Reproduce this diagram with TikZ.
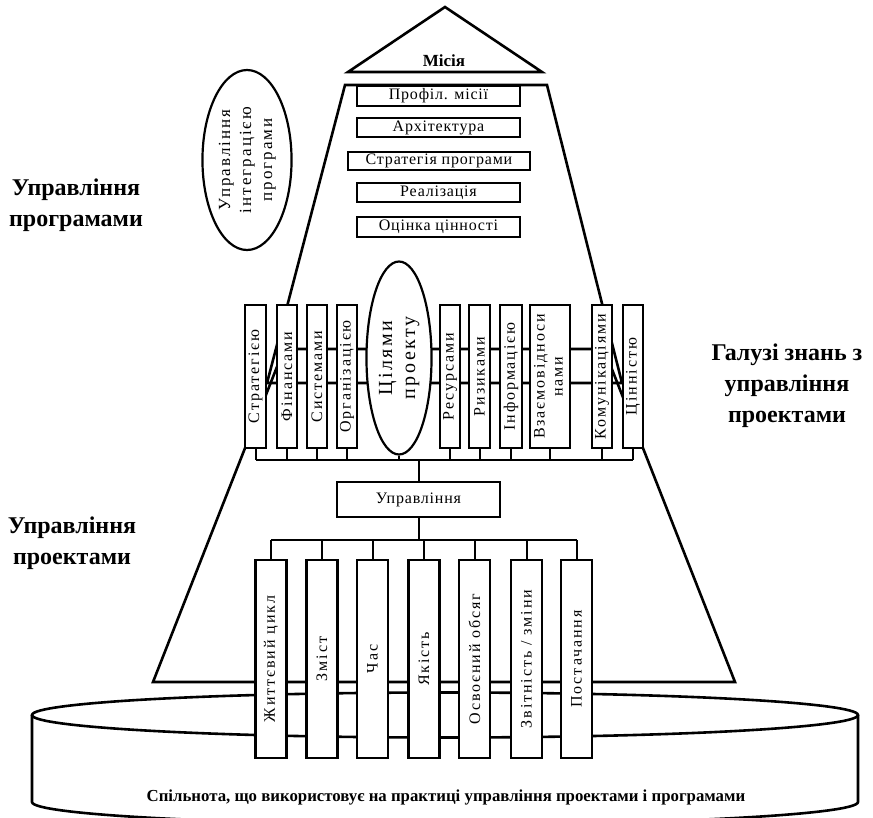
\documentclass[tikz,border=0pt]{standalone}
\usepackage{fontspec}
\setmainfont{Liberation Serif}
\newfontfamily\spc{Liberation Serif}[LetterSpace=12]
\newfontfamily\spb{Liberation Serif}[LetterSpace=5]
\usetikzlibrary{shapes.geometric}
\begin{document}
\begin{tikzpicture}[x=1pt,y=-1pt,
  outl/.style={line width=2.6pt, line join=miter},
  conn/.style={line width=2pt},
  pbox/.style={draw, line width=2.2pt, fill=white, inner sep=0pt, font=\spb\fontsize{16}{18}\selectfont},
  vbox/.style={draw, line width=2.2pt, fill=white, inner sep=0pt, minimum width=20pt, minimum height=143pt, font=\spc\fontsize{16}{18}\selectfont},
  bbar/.style={draw, line width=2.2pt, fill=white, inner sep=0pt, minimum width=31pt, minimum height=198pt, font=\spc\fontsize{16}{18}\selectfont},
  lbl/.style={font=\bfseries\fontsize{24}{31}\selectfont, align=center},
]
\useasboundingbox (0,0) rectangle (873,817);

% cylinder
\draw[outl, fill=white] (32,715) -- (32,802) arc[start angle=180, end angle=0, x radius=413, y radius=22.5] -- (858,715);
\draw[outl] (445,715) ellipse [x radius=413, y radius=22.5];
\node[font=\bfseries\fontsize{16.8}{18}\selectfont] (comm) at (446,797) {Спільнота, що використовує на практиці управління проектами і програмами};

% trapezoids
\draw[outl] (345,85) -- (547,85) -- (622,383) -- (267,383) -- cycle;
\draw[outl] (284,349) -- (604,349) -- (735,682) -- (153,682) -- cycle;

% mission
\draw[outl] (348,72) -- (445,7) -- (542,72) -- cycle;
\node[font=\bfseries\fontsize{17}{19}\selectfont] (mis) at (444,61) {Місія};

% program boxes
\node[pbox, minimum width=163pt, minimum height=20pt] (p1) at (438.5,96) {Профіл. місії};
\node[pbox, minimum width=163pt, minimum height=19pt] (p2) at (438.5,127.5) {Архітектура};
\node[pbox, minimum width=182pt, minimum height=18pt] (p3) at (439,161) {Стратегія програми};
\node[pbox, minimum width=163pt, minimum height=19pt] (p4) at (438.5,192.5) {Реалізація};
\node[pbox, minimum width=163pt, minimum height=20pt] (p5) at (438.5,227) {Оцінка цінності};

% integration ellipse
\node[ellipse, draw, line width=2.2pt, fill=white, inner sep=0pt, minimum width=80pt, minimum height=180pt, font=\spc\fontsize{17}{21}\selectfont] (ie) at (247,160)
  {\rotatebox{90}{\begin{tabular}{@{}c@{}}Управління\\інтеграцією\\програми\end{tabular}}};

% knowledge areas
\node[vbox, minimum width=21pt] (k1) at (255.5,376.5) {\rotatebox{90}{Стратегією}};
\node[vbox] (k2) at (287,376.5) {\rotatebox{90}{Фінансами}};
\node[vbox] (k3) at (317,376.5) {\rotatebox{90}{Системами}};
\node[vbox] (k4) at (347,376.5) {\rotatebox{90}{Організацією}};
\node[ellipse, draw, line width=2.2pt, fill=white, inner sep=0pt, minimum width=62pt, minimum height=193pt, font=\spc\fontsize{20}{23}\selectfont] (k5) at (399,358)
  {\rotatebox{90}{\begin{tabular}{@{}c@{}}Цілями\\проекту\end{tabular}}};
\node[vbox] (k6) at (450,376.5) {\rotatebox{90}{Ресурсами}};
\node[vbox, minimum width=21pt] (k7) at (479.5,376.5) {\rotatebox{90}{Ризиками}};
\node[vbox, minimum width=22pt] (k8) at (511,376.5) {\rotatebox{90}{Інформацією}};
\node[vbox, minimum width=40pt] (k9) at (550,376.5) {\rotatebox{90}{\begin{tabular}{@{}c@{}}Взаємовідноси\\нами\end{tabular}}};
\node[vbox] (k10) at (602,376.5) {\rotatebox{90}{Комунікаціями}};
\node[vbox] (k11) at (633,376.5) {\rotatebox{90}{Цінністю}};

\coordinate (ub) at (0,460);
\draw[conn] (k1.south |- ub) -- (k11.south |- ub);
\foreach \k in {k1,k2,k3,k4,k5,k6,k7,k8,k9,k10,k11}
  \draw[conn] (\k.south) -- (\k.south |- ub);

% management
\node[pbox, minimum width=163pt, minimum height=35pt] (upr) at (418.5,499.5) {Управління};
\draw[conn] (upr.north) -- (upr.north |- ub);

\node[bbar] (b1) at (271,659) {\rotatebox{90}{Життєвий цикл}};
\node[bbar] (b2) at (322,659) {\rotatebox{90}{Зміст}};
\node[bbar] (b3) at (372.5,659) {\rotatebox{90}{Час}};
\node[bbar] (b4) at (424,659) {\rotatebox{90}{Якість}};
\node[bbar] (b5) at (474.5,659) {\rotatebox{90}{Освоєний обсяг}};
\node[bbar] (b6) at (526.5,659) {\rotatebox{90}{Звітність / зміни}};
\node[bbar] (b7) at (576.5,659) {\rotatebox{90}{Постачання}};

\coordinate (lb) at (0,540);
\draw[conn] (upr.south) -- (upr.south |- lb);
\draw[conn] (b1.north |- lb) -- (b7.north |- lb);
\foreach \b in {b1,b2,b3,b4,b5,b6,b7}
  \draw[conn] (\b.north) -- (\b.north |- lb);

% side labels
\node[lbl] (lp) at (76,205) {Управління\\програмами};
\node[lbl] (rk) at (787,386) {Галузі знань з\\управління\\проектами};
\node[lbl] (lpr) at (72,543) {Управління\\проектами};
\end{tikzpicture}
\end{document}
